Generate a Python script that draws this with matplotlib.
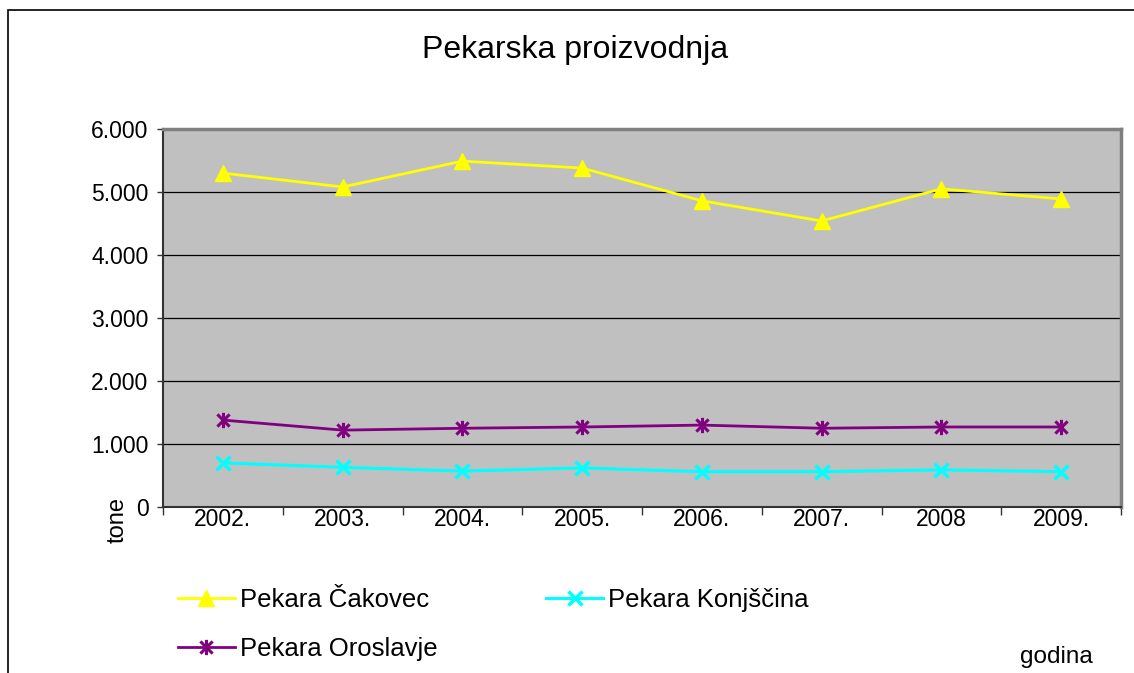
import matplotlib
matplotlib.use("Agg")
import matplotlib.pyplot as plt
from matplotlib.path import Path
from matplotlib.patches import Rectangle
from matplotlib.ticker import FuncFormatter, FixedLocator
import numpy as np

plt.rcParams['font.family'] = ['Liberation Sans', 'DejaVu Sans']

years = ["2002.", "2003.", "2004.", "2005.", "2006.", "2007.", "2008", "2009."]
cakovec = [5300, 5080, 5490, 5380, 4860, 4540, 5050, 4890]
konjscina = [700, 630, 570, 620, 560, 560, 590, 560]
oroslavje = [1380, 1220, 1250, 1270, 1300, 1250, 1270, 1270]
yticks = [0, 1000, 2000, 3000, 4000, 5000, 6000]

fig = plt.figure(figsize=(11.34, 6.73), dpi=100)
fig.patch.set_facecolor('white')
# outer chart border (left and top visible)
fig.patches.append(Rectangle((8/1134, -0.1), 1.2, 1 - 10/673 + 0.1,
                             transform=fig.transFigure, fill=False,
                             edgecolor='black', linewidth=1.2))

ax = fig.add_axes([163/1134, 1 - 507/673, (1121 - 163)/1134, (507 - 129)/673])
ax.set_facecolor('#C0C0C0')

x = np.arange(len(years))

star = Path([(-1, -1), (1, 1), (-1, 1), (1, -1), (0, -1.25), (0, 1.25)],
            [Path.MOVETO, Path.LINETO, Path.MOVETO, Path.LINETO, Path.MOVETO, Path.LINETO])

l1, = ax.plot(x, cakovec, color='#FFFF00', lw=2, marker='^', markersize=12,
              markeredgecolor='#FFFF00', label='Pekara Čakovec', zorder=4)
l2, = ax.plot(x, konjscina, color='#00FFFF', lw=2.2, marker='x', markersize=10,
              markeredgewidth=2.5, label='Pekara Konjščina', zorder=4)
l3, = ax.plot(x, oroslavje, color='#800080', lw=2, marker=star, markersize=11,
              markeredgewidth=2.2, markerfacecolor='none', label='Pekara Oroslavje', zorder=4)

ax.set_xlim(-0.5, len(years) - 0.5)
ax.set_ylim(0, 6000)
ax.yaxis.set_major_locator(FixedLocator(yticks))
ax.yaxis.set_major_formatter(FuncFormatter(lambda v, p: f"{int(v):,}".replace(",", ".")))
ax.grid(axis='y', color='black', linewidth=0.9, zorder=1)
ax.set_axisbelow(True)

ax.set_xticks(x)
ax.set_xticklabels(years)
ax.set_xticks(np.arange(-0.5, len(years)), minor=True)
ax.tick_params(axis='x', which='major', length=0, pad=1, labelsize=16.5)
ax.tick_params(axis='x', which='minor', length=5.5, width=1, color='#333333')
ax.tick_params(axis='y', which='major', length=4.5, width=1, pad=6, labelsize=16.5, color='#333333')

for s in ['left', 'bottom']:
    ax.spines[s].set_color('#333333')
    ax.spines[s].set_linewidth(1.5)
for s in ['top', 'right']:
    ax.spines[s].set_color('#808080')
    ax.spines[s].set_linewidth(2.5)

fig.text(575/1134, 1 - 50/673, "Pekarska proizvodnja", ha='center', va='center', fontsize=23)
fig.text(118/1134, 1 - 520/673, "tone", rotation=90, ha='center', va='center', fontsize=17)
fig.text(1056/1134, 1 - 657/673, "godina", ha='center', va='center', fontsize=17.5)

leg = fig.legend([l1, l3, l2], ['Pekara Čakovec', 'Pekara Oroslavje', 'Pekara Konjščina'],
                 ncol=2, loc='upper left', bbox_to_anchor=(178/1134, 1 - 588/673),
                 frameon=False, fontsize=18.5, handlelength=2.2, handletextpad=0.2,
                 columnspacing=4.25, labelspacing=0.98, borderpad=0, borderaxespad=0)

fig.savefig("out.png", dpi=100)
